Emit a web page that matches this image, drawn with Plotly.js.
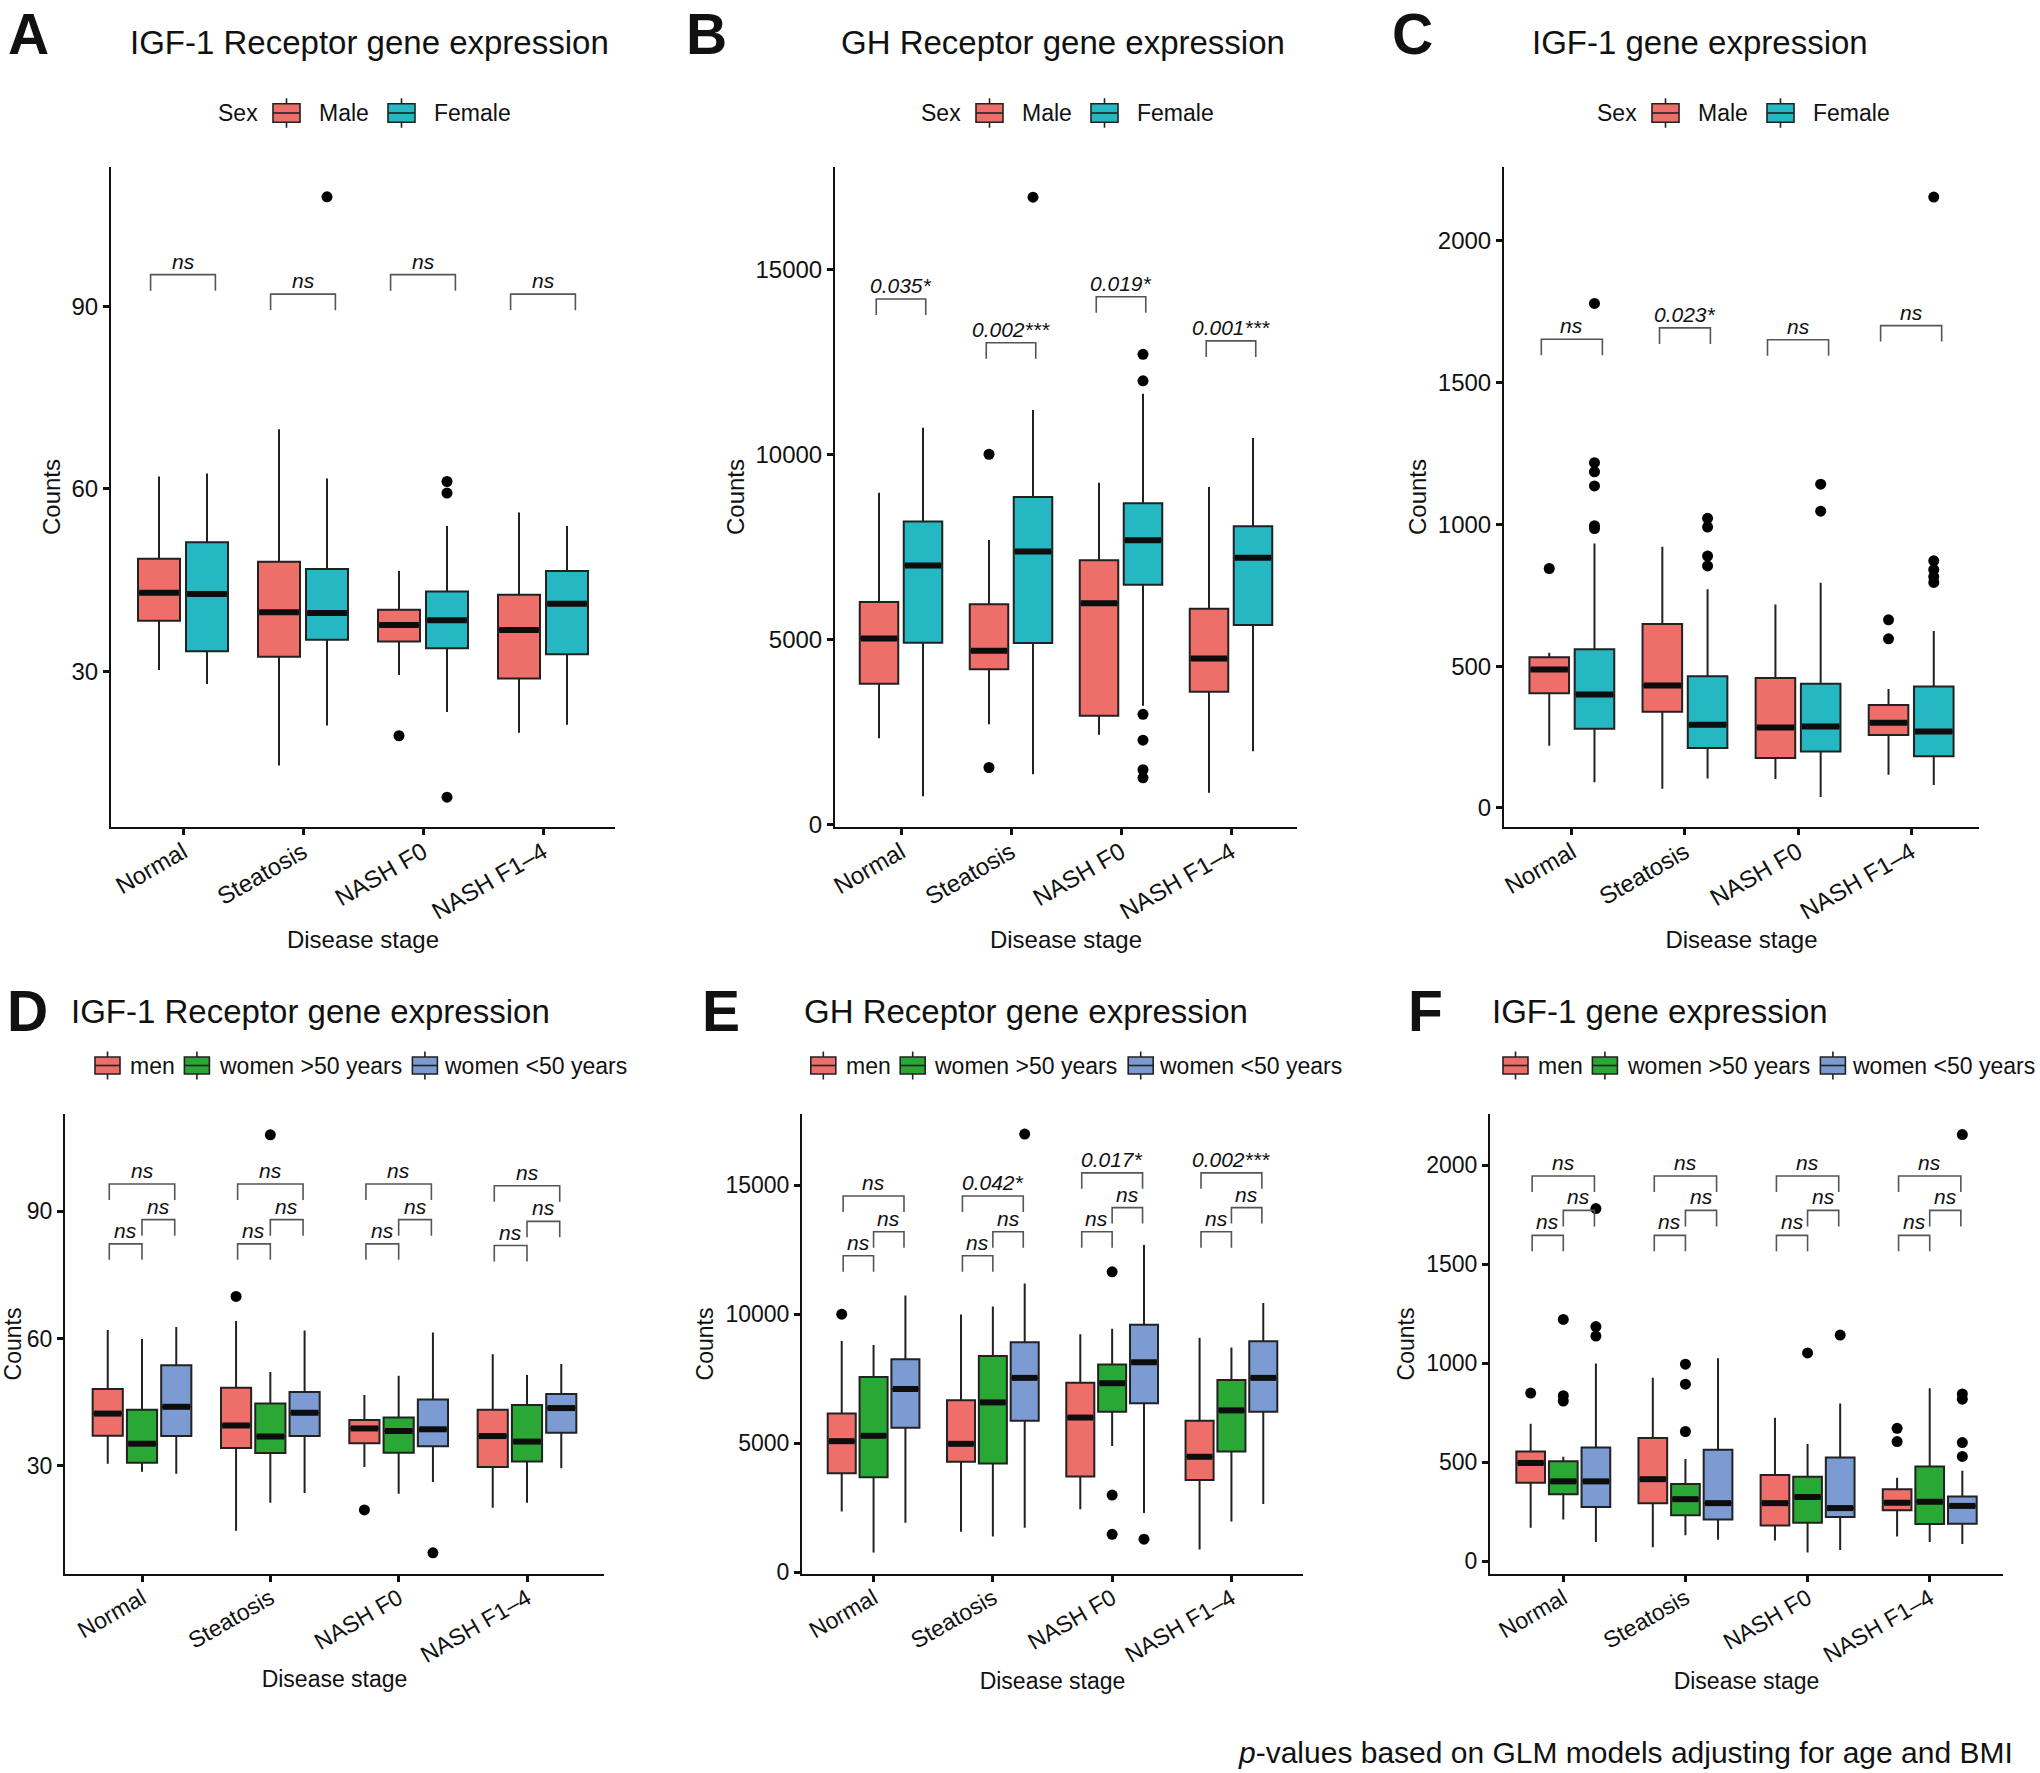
<!DOCTYPE html>
<html><head><meta charset="utf-8">
<script src="https://cdn.plot.ly/plotly-3.0.1.min.js"></script>
<style>html,body{margin:0;padding:0;background:#fff}#chart{width:2040px;height:1773px}</style>
</head><body><div id="chart"></div>
<script>
// ---------------- DATA ----------------
const categories = ['Normal', 'Steatosis', 'NASH F0', 'NASH F1\u20134'];
const sexGroups = ['Male', 'Female'];
const ageGroups = ['men', 'women >50 years', 'women <50 years'];

// Panel A: IGF-1 Receptor, by sex  (rows = groups, columns = categories)
const A_lower  = [[30.2, 14.5, 29.4, 19.9], [27.9, 21.1, 23.3, 21.2]];
const A_q1     = [[38.3, 32.4, 34.9, 28.8], [33.3, 35.2, 33.8, 32.8]];
const A_median = [[42.9, 39.7, 37.6, 36.8], [42.7, 39.6, 38.4, 41.1]];
const A_q3     = [[48.5, 48.0, 40.1, 42.6], [51.2, 46.8, 43.1, 46.5]];
const A_upper  = [[62.0, 69.8, 46.5, 56.1], [62.5, 61.7, 53.9, 53.9]];
const A_outliers = [[[], [], [19.4], []], [[], [108], [61.2, 59.3, 9.3], []]];
const A_sigLabels = ['ns', 'ns', 'ns', 'ns'];
const A_sigY = [95.2, 92.0, 95.2, 92.0];

// Panel B: GH Receptor, by sex
const B_lower  = [[2325, 2705, 2425, 858], [759, 1357, 3204, 1976]];
const B_q1     = [[3802, 4192, 2934, 3583], [4910, 4900, 6477, 5389]];
const B_median = [[5020, 4691, 5978, 4481], [6996, 7375, 7675, 7206]];
const B_q3     = [[6008, 5948, 7136, 5828], [8184, 8842, 8673, 8054]];
const B_upper  = [[8962, 7685, 9232, 9112], [10719, 11198, 11637, 10439]];
const B_outliers = [[[], [10000, 1537], [], []], [[], [16944], [12699, 11984, 2974, 2275, 1477, 1258], []]];
const B_sigLabels = ['0.035*', '0.002***', '0.019*', '0.001***'];
const B_sigY = [14194, 13011, 14255, 13062];

// Panel C: IGF-1, by sex
const C_lower  = [[219, 68, 102, 117], [91, 104, 39, 81]];
const C_q1     = [[404, 339, 176, 257], [279, 211, 199, 182]];
const C_median = [[488, 432, 284, 300], [400, 293, 287, 270]];
const C_q3     = [[531, 648, 458, 363], [559, 464, 438, 428]];
const C_upper  = [[547, 921, 717, 419], [932, 771, 794, 624]];
const C_outliers = [[[844], [], [], [663, 596]], [[1778, 1217, 1185, 1135, 995, 985], [1021, 990, 888, 853], [1141, 1046], [2153, 871, 840, 815, 795]]];
const C_sigLabels = ['ns', '0.023*', 'ns', 'ns'];
const C_sigY = [1652, 1692, 1650, 1700];

// Panel D: IGF-1 Receptor, by sex/age group
const D_lower  = [[30.5, 14.7, 29.7, 20.1], [28.6, 21.3, 23.4, 21.3], [28.1, 23.6, 26.2, 29.4]];
const D_q1     = [[37.1, 34.2, 35.3, 29.7], [30.7, 33.0, 33.1, 31.0], [37.0, 37.0, 34.6, 37.8]];
const D_median = [[42.3, 39.5, 38.8, 37.0], [35.2, 36.9, 38.2, 35.7], [43.9, 42.5, 38.6, 43.6]];
const D_q3     = [[48.1, 48.4, 40.8, 43.2], [43.2, 44.7, 41.4, 44.3], [53.7, 47.4, 45.6, 46.9]];
const D_upper  = [[62.0, 64.1, 46.7, 56.3], [59.9, 52.1, 51.2, 51.4], [62.7, 61.9, 61.4, 54.0]];
const D_outliers = [[[], [69.9], [19.6], []], [[], [108.0], [], []], [[], [], [9.5], []]];
// comparisons per category: [men vs >50, >50 vs <50, men vs <50]
const D_sigLabels = [['ns', 'ns', 'ns'], ['ns', 'ns', 'ns'], ['ns', 'ns', 'ns'], ['ns', 'ns', 'ns']];
const D_sigY = [[82.3, 88.0, 96.4], [82.3, 88.0, 96.4], [82.3, 88.0, 96.4], [81.9, 87.6, 96.0]];

// Panel E: GH Receptor, by sex/age group
const E_lower  = [[2345, 1567, 2431, 876], [755, 1377, 4885, 1965], [1913, 1723, 2293, 2639]];
const E_q1     = [[3831, 4280, 3710, 3572], [3676, 4211, 6216, 4678], [5594, 5870, 6544, 6216]];
const E_median = [[5075, 4972, 5991, 4470], [5283, 6579, 7322, 6268], [7097, 7529, 8134, 7529]];
const E_q3     = [[6146, 6665, 7339, 5870], [7564, 8376, 8047, 7443], [8255, 8911, 9585, 8946]];
const E_upper  = [[8963, 9983, 9222, 9084], [8808, 10294, 9430, 8704], [10726, 11192, 12678, 10432]];
const E_outliers = [[[10000], [], [], []], [[], [], [11642, 2984, 1464], []], [[], [16981], [1274], []]];
const E_sigLabels = [['ns', 'ns', 'ns'], ['ns', 'ns', '0.042*'], ['ns', 'ns', '0.017*'], ['ns', 'ns', '0.002***']];
const E_sigY = [[12264, 13197, 14579], [12264, 13197, 14579], [13197, 14130, 15478], [13197, 14130, 15478]];

// Panel F: IGF-1, by sex/age group
const F_lower  = [[169, 70, 104, 124], [210, 131, 43, 97], [97, 108, 56, 86]];
const F_q1     = [[396, 293, 180, 257], [338, 232, 194, 187], [273, 210, 223, 189]];
const F_median = [[496, 414, 293, 295], [403, 313, 324, 300], [403, 293, 268, 279]];
const F_q3     = [[554, 622, 435, 363], [505, 390, 426, 478], [574, 563, 523, 327]];
const F_upper  = [[694, 926, 725, 421], [527, 516, 592, 874], [998, 1025, 797, 457]];
const F_outliers = [[[849], [], [], [671, 604]], [[1221, 836, 809], [995, 894, 655], [1052], []], [[1781, 1185, 1137], [], [1142], [2155, 845, 818, 599, 529]]];
const F_sigLabels = [['ns', 'ns', 'ns'], ['ns', 'ns', 'ns'], ['ns', 'ns', 'ns'], ['ns', 'ns', 'ns']];
const F_sigY = [[1646, 1772, 1946], [1646, 1772, 1946], [1646, 1772, 1946], [1646, 1772, 1946]];

const panelTitles = ['IGF-1 Receptor gene expression', 'GH Receptor gene expression', 'IGF-1 gene expression',
                     'IGF-1 Receptor gene expression', 'GH Receptor gene expression', 'IGF-1 gene expression'];
const panelLetters = ['A', 'B', 'C', 'D', 'E', 'F'];
const xAxisTitle = 'Disease stage';
const yAxisTitle = 'Counts';
const legendTitleSex = 'Sex';
const footnote = '<i>p</i>-values based on GLM models adjusting for age and BMI';

// ---------------- STYLE / LAYOUT ----------------
const W = 2040, H = 1773;
const FONT = 'Liberation Sans, Arial, Helvetica, sans-serif';
const sexColors = ['#EE6F6A', '#25B8C3'];
const ageColors = ['#EE6F6A', '#2AA835', '#7B9BD2'];
const fx = p => p / W;
const fy = p => 1 - p / H;

// legend item layout (px offsets relative to legend start)
const sexLegendKeys = [57, 172], sexLegendTexts = [101, 216];
const ageLegendKeys = [0, 89.4, 317.4], ageLegendTexts = [32.7, 121.6, 346.6];

const panels = [
  {n: 1, xpx: [111, 615], ypx: [827, 167], yr: [4.4, 112.9], tv: [30, 60, 90],
   groups: sexGroups, colors: sexColors, stats: [A_lower, A_q1, A_median, A_q3, A_upper], out: A_outliers,
   sigL: A_sigLabels, sigY: A_sigY, titleC: [369, 43], letter: [6, 34], legend: [216, 113], fs: 24, xStand: 8, yStand: 4},
  {n: 2, xpx: [835, 1297], ypx: [827, 167], yr: [-70, 17760], tv: [0, 5000, 10000, 15000],
   groups: sexGroups, colors: sexColors, stats: [B_lower, B_q1, B_median, B_q3, B_upper], out: B_outliers,
   sigL: B_sigLabels, sigY: B_sigY, titleC: [1063, 43], letter: [684, 34], legend: [919, 113], fs: 24, xStand: 8, yStand: 4},
  {n: 3, xpx: [1504, 1979], ypx: [827, 167], yr: [-67, 2259], tv: [0, 500, 1000, 1500, 2000],
   groups: sexGroups, colors: sexColors, stats: [C_lower, C_q1, C_median, C_q3, C_upper], out: C_outliers,
   sigL: C_sigLabels, sigY: C_sigY, titleC: [1700, 43], letter: [1390, 34], legend: [1595, 113], fs: 24, xStand: 8, yStand: 4},
  {n: 4, xpx: [65, 604], ypx: [1574, 1114], yr: [4.5, 112.9], tv: [30, 60, 90],
   groups: ageGroups, colors: ageColors, stats: [D_lower, D_q1, D_median, D_q3, D_upper], out: D_outliers,
   sigL: D_sigLabels, sigY: D_sigY, titleC: [310, 1011], letter: [5, 1011], legend: [95, 1065.5], fs: 23, xStand: 4, yStand: 7},
  {n: 5, xpx: [802, 1303], ypx: [1574, 1114], yr: [-75, 17760], tv: [0, 5000, 10000, 15000],
   groups: ageGroups, colors: ageColors, stats: [E_lower, E_q1, E_median, E_q3, E_upper], out: E_outliers,
   sigL: E_sigLabels, sigY: E_sigY, titleC: [1026, 1011], letter: [700, 1011], legend: [810.8, 1065.5], fs: 23, xStand: 4, yStand: 5},
  {n: 6, xpx: [1490, 2003], ypx: [1574, 1114], yr: [-65, 2259], tv: [0, 500, 1000, 1500, 2000],
   groups: ageGroups, colors: ageColors, stats: [F_lower, F_q1, F_median, F_q3, F_upper], out: F_outliers,
   sigL: F_sigLabels, sigY: F_sigY, titleC: [1660, 1011], letter: [1406, 1011], legend: [1503, 1065.5], fs: 23, xStand: 4, yStand: 5}
];

const traces = [];
const annotations = [];
const shapes = [];
const layout = {
  width: W, height: H, margin: {l: 0, r: 0, t: 0, b: 0},
  paper_bgcolor: '#fff', plot_bgcolor: '#fff',
  font: {family: FONT, color: '#111'},
  showlegend: false, hovermode: false
};

// draws a ggplot-style boxplot legend key (box + median + whisker stubs) in pixel space
function legendKey(left, cy, w, h, color) {
  const x0 = fx(left), x1 = fx(left + w), xm = fx(left + w / 2);
  const yt = fy(cy - h / 2), yb = fy(cy + h / 2), ym = fy(cy);
  const stub = 5.5;
  const ln = {color: '#222', width: 1.6};
  shapes.push({type: 'rect', xref: 'paper', yref: 'paper', x0: x0, x1: x1, y0: yb, y1: yt, fillcolor: color, line: ln, layer: 'above'});
  shapes.push({type: 'line', xref: 'paper', yref: 'paper', x0: x0, x1: x1, y0: ym, y1: ym, line: ln, layer: 'above'});
  shapes.push({type: 'line', xref: 'paper', yref: 'paper', x0: xm, x1: xm, y0: yt, y1: fy(cy - h / 2 - stub), line: ln, layer: 'above'});
  shapes.push({type: 'line', xref: 'paper', yref: 'paper', x0: xm, x1: xm, y0: yb, y1: fy(cy + h / 2 + stub), line: ln, layer: 'above'});
}
function legendText(left, cy, text) {
  annotations.push({xref: 'paper', yref: 'paper', x: fx(left), y: fy(cy), xanchor: 'left', yanchor: 'middle',
    text: text, showarrow: false, font: {family: FONT, size: 23, color: '#111'}});
}

panels.forEach((p, pi) => {
  const sfx = p.n === 1 ? '' : String(p.n);
  const xa = 'x' + sfx, ya = 'y' + sfx;
  const nG = p.groups.length;
  const offsets = nG === 2 ? [-0.2, 0.2] : [-0.267, 0, 0.267];
  const bw = nG === 2 ? 0.35 : 0.235;
  const [lo, q1, md, q3, up] = p.stats;
  const hPx = p.ypx[0] - p.ypx[1];
  const unitPerPx = (p.yr[1] - p.yr[0]) / hPx;

  for (let g = 0; g < nG; g++) {
    const xs = categories.map((c, i) => i + 1 + offsets[g]);
    traces.push({
      type: 'box', x: xs, q1: q1[g], median: md[g], q3: q3[g],
      lowerfence: lo[g], upperfence: up[g], width: bw,
      name: p.groups[g], fillcolor: p.colors[g],
      line: {color: '#222', width: 2}, whiskerwidth: 0, boxpoints: false,
      xaxis: xa, yaxis: ya, hoverinfo: 'skip'
    });
    const mx = [], my = [];
    xs.forEach((x, i) => { mx.push(x - bw / 2 + 0.01, x + bw / 2 - 0.01, null); my.push(md[g][i], md[g][i], null); });
    traces.push({type: 'scatter', mode: 'lines', x: mx, y: my, line: {color: '#0d0d0d', width: 6},
      xaxis: xa, yaxis: ya, hoverinfo: 'skip'});
    const ox = [], oy = [];
    p.out[g].forEach((vals, i) => vals.forEach(v => { ox.push(i + 1 + offsets[g]); oy.push(v); }));
    traces.push({type: 'scatter', mode: 'markers', x: ox, y: oy,
      marker: {color: '#000', size: 11}, xaxis: xa, yaxis: ya, hoverinfo: 'skip'});
  }

  // significance brackets
  const bx = [], by = [];
  const drop = 16 * unitPerPx;
  const addBracket = (x1, x2, y, label) => {
    bx.push(x1, x1, x2, x2, null); by.push(y - drop, y, y, y - drop, null);
    annotations.push({xref: xa, yref: ya, x: (x1 + x2) / 2, y: y, yanchor: 'bottom', xanchor: 'center',
      text: '<i>' + label + '</i>', showarrow: false,
      font: {family: FONT, size: 21, color: '#111'}});
  };
  categories.forEach((c, i) => {
    const cx = i + 1;
    if (nG === 2) {
      const half = p.sigL[i] === 'ns' ? 0.27 : 0.225;
      addBracket(cx - half, cx + half, p.sigY[i], p.sigL[i]);
    } else {
      const bo = 0.255;
      addBracket(cx - bo, cx, p.sigY[i][0], p.sigL[i][0]);
      addBracket(cx, cx + bo, p.sigY[i][1], p.sigL[i][1]);
      addBracket(cx - bo, cx + bo, p.sigY[i][2], p.sigL[i][2]);
    }
  });
  traces.push({type: 'scatter', mode: 'lines', x: bx, y: by, line: {color: '#555', width: 1.6},
    xaxis: xa, yaxis: ya, hoverinfo: 'skip'});

  layout['xaxis' + sfx] = {
    domain: [fx(p.xpx[0]), fx(p.xpx[1])], anchor: ya, range: [0.4, 4.6],
    tickmode: 'array', tickvals: [1, 2, 3, 4], ticktext: categories, tickangle: -30,
    ticks: 'outside', ticklen: 6, tickwidth: 3, tickcolor: '#111', ticklabelstandoff: -6,
    showline: true, linecolor: '#111', linewidth: 2, showgrid: false, zeroline: false,
    tickfont: {family: FONT, size: p.fs, color: '#111'},
    title: {text: xAxisTitle, font: {family: FONT, size: p.fs, color: '#111'}, standoff: p.xStand}
  };
  layout['yaxis' + sfx] = {
    domain: [fy(p.ypx[0]), fy(p.ypx[1])], anchor: xa, range: p.yr,
    tickmode: 'array', tickvals: p.tv, tickformat: 'd',
    ticks: 'outside', ticklen: 6, tickwidth: 3, tickcolor: '#111',
    showline: true, linecolor: '#111', linewidth: 2, showgrid: false, zeroline: false,
    tickfont: {family: FONT, size: p.fs, color: '#111'},
    title: {text: yAxisTitle, font: {family: FONT, size: p.fs, color: '#111'}, standoff: p.yStand}
  };

  // legend
  if (nG === 2) {
    legendText(p.legend[0], p.legend[1], legendTitleSex);
    p.groups.forEach((g, gi) => {
      legendKey(p.legend[0] + sexLegendKeys[gi], p.legend[1], 27, 18.5, p.colors[gi]);
      legendText(p.legend[0] + sexLegendTexts[gi], p.legend[1], g);
    });
  } else {
    p.groups.forEach((g, gi) => {
      legendKey(p.legend[0] + ageLegendKeys[gi], p.legend[1], 25, 17, p.colors[gi]);
      legendText(p.legend[0] + ageLegendTexts[gi], p.legend[1], g);
    });
  }

  annotations.push({xref: 'paper', yref: 'paper', x: fx(p.titleC[0]), y: fy(p.titleC[1]),
    xanchor: 'center', yanchor: 'middle', text: panelTitles[pi], showarrow: false,
    font: {family: FONT, size: 33, color: '#111'}});
  annotations.push({xref: 'paper', yref: 'paper', x: fx(p.letter[0]), y: fy(p.letter[1]),
    xanchor: 'left', yanchor: 'middle',
    text: '<b>' + panelLetters[pi] + '</b>', showarrow: false,
    font: {family: FONT, size: 57, color: '#111'}});
});

annotations.push({xref: 'paper', yref: 'paper', x: fx(2015), y: fy(1752), xanchor: 'right', yanchor: 'middle',
  text: footnote, showarrow: false, font: {family: FONT, size: 30, color: '#111'}});
layout.annotations = annotations;
layout.shapes = shapes;

Plotly.newPlot('chart', traces, layout, {staticPlot: true, displayModeBar: false});
</script>
</body></html>
